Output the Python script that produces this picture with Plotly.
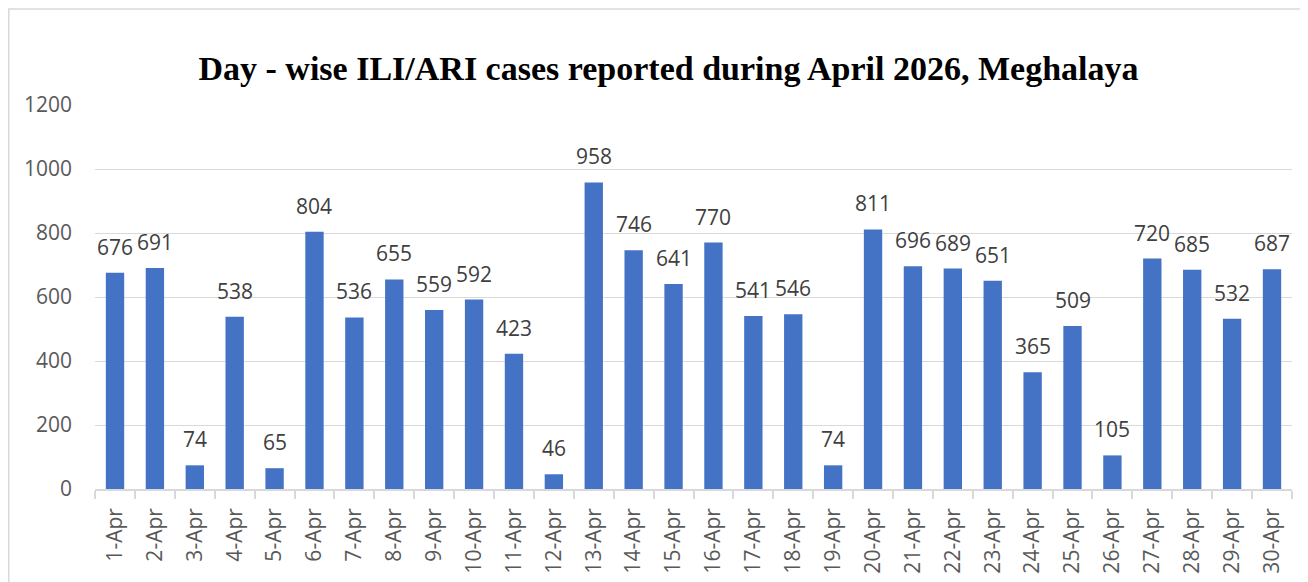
import plotly.graph_objects as go

days = [f"{d}-Apr" for d in range(1, 31)]
cases = [676, 691, 74, 538, 65, 804, 536, 655, 559, 592, 423, 46, 958, 746, 641,
         770, 541, 546, 74, 811, 696, 689, 651, 365, 509, 105, 720, 685, 532, 687]
title_text = "Day - wise ILI/ARI cases reported during April 2026, Meghalaya"

SANS = "Open Sans, Liberation Sans, sans-serif"

fig = go.Figure(go.Bar(x=days, y=cases, marker_color="#4472C4", width=0.46,
                       marker_line_width=0))

for d, v in zip(days, cases):
    fig.add_annotation(x=d, y=v, text=str(v), showarrow=False, yanchor="bottom",
                       yshift=10, font=dict(family=SANS, size=21, color="#404040"))

# page has an 8px body margin; figure coordinates are page coords minus 8
W, H = 1300, 574
L, R, T, B = 87, 16, 97, 93
pw, ph = W - L - R, H - T - B

fig.update_layout(
    width=W, height=H,
    margin=dict(l=L, r=R, t=T, b=B, autoexpand=False),
    paper_bgcolor="white", plot_bgcolor="white",
    showlegend=False,
    title=dict(text="<b>" + title_text + "</b>", x=660.5 / W, xanchor="center",
               y=1 - 60 / H, yanchor="middle",
               font=dict(family="Liberation Serif, serif", size=34, color="black")),
)
fig.update_yaxes(range=[0, 1200], dtick=200, showgrid=True, gridcolor="#D9D9D9", gridwidth=1,
                 zeroline=False, showline=False, ticks="", automargin=False,
                 tickfont=dict(family=SANS, size=21, color="#595959"),
                 ticklabelstandoff=22)
fig.update_xaxes(showline=True, linecolor="#D9D9D9", linewidth=1.5, ticks="outside",
                 tickson="boundaries", ticklen=8, tickcolor="#D9D9D9", tickwidth=1.5,
                 tickangle=-90, ticklabelstandoff=9, automargin=False,
                 tickfont=dict(family=SANS, size=21, color="#595959"))

# chart border
fig.add_shape(type="rect", xref="paper", yref="paper",
              x0=(0.75 - L) / pw, x1=(W + 5 - L) / pw,
              y0=-(H + 5 - T - ph) / ph, y1=(H - B - 1) / ph,
              line=dict(color="#D9D9D9", width=1.5), fillcolor="rgba(0,0,0,0)", layer="below")

fig.write_html("out.html")
